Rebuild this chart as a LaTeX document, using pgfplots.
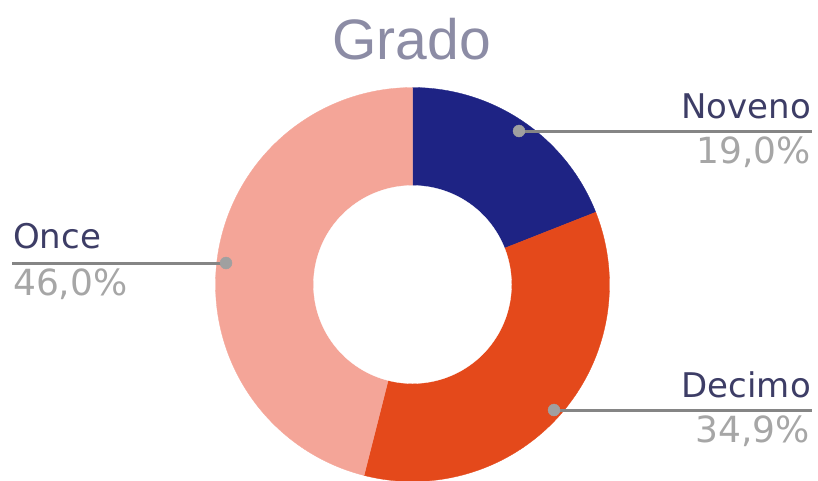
\documentclass[border=0pt]{standalone}
\usepackage{fontspec}
\setmainfont{DejaVu Sans}
\newfontfamily\titlefont{Liberation Sans}
\usepackage{pgfplots}
\pgfplotsset{compat=1.18}
\definecolor{cNov}{HTML}{1E2384}
\definecolor{cDec}{HTML}{E4491B}
\definecolor{cOnc}{HTML}{F4A598}
\definecolor{cTitle}{HTML}{8C8CA5}
\definecolor{cName}{HTML}{3D3D66}
\definecolor{cPct}{HTML}{A6A6A6}
\definecolor{cLine}{HTML}{858585}
\definecolor{cDot}{HTML}{A0A0A0}
% data (percent)
\def\vN{19.0}\def\vD{34.9}\def\vO{46.0}
\pgfmathsetmacro\vT{\vN+\vD+\vO}
\pgfmathsetmacro\aA{90}
\pgfmathsetmacro\aB{90-\vN/\vT*360}
\pgfmathsetmacro\aC{\aB-\vD/\vT*360}
\pgfmathsetmacro\aD{\aC-\vO/\vT*360}
\def\cx{412.5}\def\cy{284.5}\def\R{197}\def\r{99}
\begin{document}
\begin{tikzpicture}
\begin{axis}[
  width=818pt, height=480pt, scale only axis,
  xmin=0, xmax=818, ymin=0, ymax=480, y dir=reverse,
  hide axis,
]
\addplot[fill=cNov, draw=cNov, line width=0.3pt, domain=\aB:\aA, samples=100, variable=\t]
  ({\cx+\R*cos(\t)},{\cy-\R*sin(\t)}) -- (axis cs:\cx,\cy) -- cycle;
\addplot[fill=cDec, draw=cDec, line width=0.3pt, domain=\aC:\aB, samples=120, variable=\t]
  ({\cx+\R*cos(\t)},{\cy-\R*sin(\t)}) -- (axis cs:\cx,\cy) -- cycle;
\addplot[fill=cOnc, draw=cOnc, line width=0.3pt, domain=\aD:\aC, samples=150, variable=\t]
  ({\cx+\R*cos(\t)},{\cy-\R*sin(\t)}) -- (axis cs:\cx,\cy) -- cycle;
\addplot[fill=white, draw=white, line width=0.3pt, domain=0:360, samples=181, variable=\t]
  ({\cx+\r*cos(\t)},{\cy-\r*sin(\t)}) -- cycle;
% leader lines
\addplot[cLine, line width=3pt] coordinates {(519,131) (812,131)};
\addplot[cLine, line width=3pt] coordinates {(554,410) (812,410)};
\addplot[cLine, line width=3pt] coordinates {(12,263) (226,263)};
\addplot[only marks, mark=*, mark size=6pt, color=cDot] coordinates {(519,131) (554,410) (226,263)};
% texts
\node[anchor=base, inner sep=0, text=cTitle, font=\titlefont\fontsize{57}{60}\selectfont] at (axis cs:411.5,59) {Grado};
\node[anchor=base east, inner sep=0, text=cName, font=\fontsize{34}{40}\selectfont] at (axis cs:811,118) {Noveno};
\node[anchor=base east, inner sep=0, text=cPct, font=\fontsize{36}{40}\selectfont] at (axis cs:811,163) {19,0\%};
\node[anchor=base east, inner sep=0, text=cName, font=\fontsize{34}{40}\selectfont] at (axis cs:811,397) {Decimo};
\node[anchor=base east, inner sep=0, text=cPct, font=\fontsize{36}{40}\selectfont] at (axis cs:810,442) {34,9\%};
\node[anchor=base west, inner sep=0, text=cName, font=\fontsize{34}{40}\selectfont] at (axis cs:13,248) {Once};
\node[anchor=base west, inner sep=0, text=cPct, font=\fontsize{36}{40}\selectfont] at (axis cs:13,295) {46,0\%};
\end{axis}
\pgfresetboundingbox
\path[use as bounding box] (current axis.south west) rectangle (current axis.north east);
\end{tikzpicture}
\end{document}
